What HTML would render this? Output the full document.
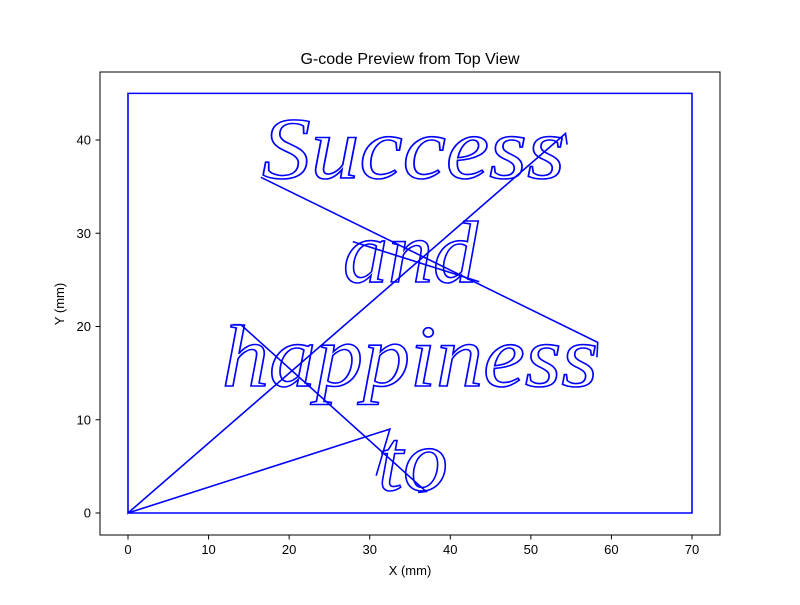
<!DOCTYPE html>
<html><head><meta charset="utf-8"><style>
body{margin:0;background:#fff;font-family:"Liberation Sans",sans-serif}
svg text{font-family:"Liberation Sans",sans-serif}
</style></head><body>
<svg width="800" height="600" viewBox="0 0 800 600">
<rect width="800" height="600" fill="#fff"/>
<text x="410" y="64" text-anchor="middle" font-size="16">G-code Preview from Top View</text>
<g id="plot"></g>
<g fill="none" stroke="#0000ff" stroke-width="1.6" style="font-family:'Liberation Serif',serif;font-style:italic;font-size:88px">
<text x="262" y="178" textLength="303" lengthAdjust="spacingAndGlyphs" style="font-family:'Liberation Serif',serif">Success</text>
<text x="343" y="282" textLength="135" lengthAdjust="spacingAndGlyphs" style="font-family:'Liberation Serif',serif">and</text>
<text x="222" y="386" textLength="376" lengthAdjust="spacingAndGlyphs" style="font-family:'Liberation Serif',serif">happiness</text>
<text x="378" y="490" textLength="70" lengthAdjust="spacingAndGlyphs" style="font-family:'Liberation Serif',serif">to</text>
</g>
<rect x="100" y="72" width="620" height="463" fill="none" stroke="#000" stroke-width="1"/>
<text x="410" y="575" text-anchor="middle" font-size="13">X (mm)</text>
<text x="0" y="0" text-anchor="middle" font-size="13" transform="translate(64,304) rotate(-90)">Y (mm)</text>
</svg>
<script>
const xTicks=[0,10,20,30,40,50,60,70];
const yTicks=[0,10,20,30,40];
const travelX=[0,70,70,0,0,54.3,54.5];
const travelY=[0,0,45,45,0,40.7,39.5];
const move2X=[16.5,58.3,58.2];
const move2Y=[36,18.3,16.7];
const move3X=[0,32.5,30.8];
const move3Y=[0,9,4];
const move4X=[13,14,37,36];
const move4Y=[20.2,20.2,2.3,2.2];
const move5X=[27.9,43.6];
const move5Y=[29.1,24.8];
const X=v=>128+v*8.057, Y=v=>513-v*9.325;
const NS='http://www.w3.org/2000/svg';
const g=document.getElementById('plot');
function line(xs,ys,name){
  const p=document.createElementNS(NS,'polyline');
  p.setAttribute('points',xs.map((x,i)=>X(x)+','+Y(ys[i])).join(' '));
  p.setAttribute('fill','none');p.setAttribute('stroke','#0000ff');p.setAttribute('stroke-width','1.6');
  
  
  g.appendChild(p);
}
line(travelX,travelY,'toolpath-border');
line(move2X,move2Y,'toolpath-travel-2');
line(move3X,move3Y,'toolpath-travel-3');
line(move4X,move4Y,'toolpath-travel-4');
line(move5X,move5Y,'toolpath-travel-5');
xTicks.forEach(t=>{
  const l=document.createElementNS(NS,'line');
  l.setAttribute('x1',X(t));l.setAttribute('x2',X(t));l.setAttribute('y1',535);l.setAttribute('y2',539.5);l.setAttribute('stroke','#000');
  
  
  g.appendChild(l);
  const s=document.createElementNS(NS,'text');
  s.setAttribute('x',X(t));s.setAttribute('y',554);s.setAttribute('text-anchor','middle');s.setAttribute('font-size','13');
  s.textContent=t;
  
  
  g.appendChild(s);
});
yTicks.forEach(t=>{
  const l=document.createElementNS(NS,'line');
  l.setAttribute('x1',95.5);l.setAttribute('x2',100);l.setAttribute('y1',Y(t));l.setAttribute('y2',Y(t));l.setAttribute('stroke','#000');
  
  
  g.appendChild(l);
  const s=document.createElementNS(NS,'text');
  s.setAttribute('x',91);s.setAttribute('y',Y(t)+4.5);s.setAttribute('text-anchor','end');s.setAttribute('font-size','13');
  s.textContent=t;
  
  
  g.appendChild(s);
});
</script>
</body></html>
